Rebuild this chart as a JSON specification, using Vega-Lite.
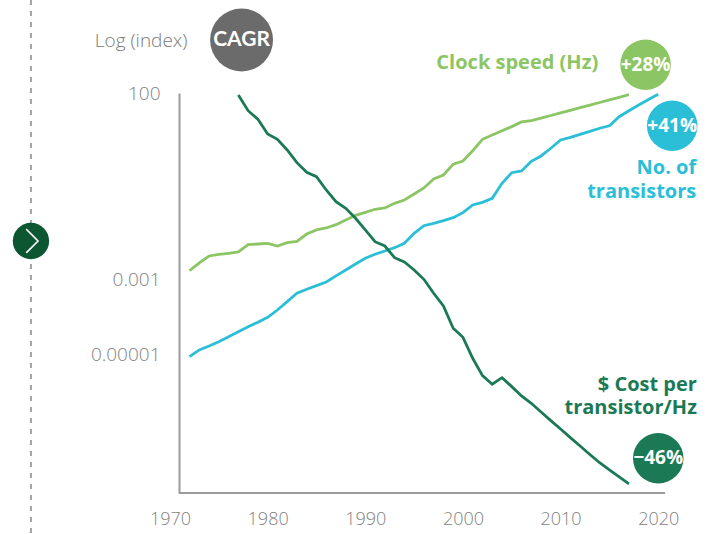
{
  "$schema": "https://vega.github.io/schema/vega-lite/v6.json",
  "width": 498,
  "height": 400,
  "autosize": "none",
  "padding": {"left": 170, "top": 93, "right": 46, "bottom": 41},
  "config": {
    "view": {"stroke": null},
    "font": "Open Sans",
    "axis": {"grid": false, "ticks": false, "labelFlush": false, "labelFont": "Open Sans", "labelFontWeight": 300, "labelFontSize": 19, "labelColor": "#7f7f7f", "domainColor": "#9a9a9a", "domainWidth": 2}
  },
  "datasets": {
    "lines": [
      {"series": "clock", "year": 1972, "value": 0.00177},
      {"series": "clock", "year": 1973, "value": 0.00284},
      {"series": "clock", "year": 1974, "value": 0.00437},
      {"series": "clock", "year": 1975, "value": 0.0048},
      {"series": "clock", "year": 1976, "value": 0.00516},
      {"series": "clock", "year": 1977, "value": 0.0056},
      {"series": "clock", "year": 1978, "value": 0.00877},
      {"series": "clock", "year": 1979, "value": 0.00915},
      {"series": "clock", "year": 1980, "value": 0.00955},
      {"series": "clock", "year": 1981, "value": 0.00809},
      {"series": "clock", "year": 1982, "value": 0.00991},
      {"series": "clock", "year": 1983, "value": 0.0108},
      {"series": "clock", "year": 1984, "value": 0.0169},
      {"series": "clock", "year": 1985, "value": 0.0217},
      {"series": "clock", "year": 1986, "value": 0.0245},
      {"series": "clock", "year": 1987, "value": 0.0301},
      {"series": "clock", "year": 1988, "value": 0.0401},
      {"series": "clock", "year": 1989, "value": 0.0536},
      {"series": "clock", "year": 1990, "value": 0.0644},
      {"series": "clock", "year": 1991, "value": 0.0776},
      {"series": "clock", "year": 1992, "value": 0.084},
      {"series": "clock", "year": 1993, "value": 0.112},
      {"series": "clock", "year": 1994, "value": 0.137},
      {"series": "clock", "year": 1995, "value": 0.199},
      {"series": "clock", "year": 1996, "value": 0.288},
      {"series": "clock", "year": 1997, "value": 0.501},
      {"series": "clock", "year": 1998, "value": 0.641},
      {"series": "clock", "year": 1999, "value": 1.24},
      {"series": "clock", "year": 2000, "value": 1.52},
      {"series": "clock", "year": 2001, "value": 2.86},
      {"series": "clock", "year": 2002, "value": 5.78},
      {"series": "clock", "year": 2003, "value": 7.53},
      {"series": "clock", "year": 2004, "value": 9.81},
      {"series": "clock", "year": 2005, "value": 12.6},
      {"series": "clock", "year": 2006, "value": 16.8},
      {"series": "clock", "year": 2007, "value": 18.2},
      {"series": "clock", "year": 2008, "value": 21.3},
      {"series": "clock", "year": 2009, "value": 25.0},
      {"series": "clock", "year": 2010, "value": 29.4},
      {"series": "clock", "year": 2011, "value": 34.5},
      {"series": "clock", "year": 2012, "value": 40.4},
      {"series": "clock", "year": 2013, "value": 47.5},
      {"series": "clock", "year": 2014, "value": 55.7},
      {"series": "clock", "year": 2015, "value": 65.4},
      {"series": "clock", "year": 2016, "value": 76.7},
      {"series": "clock", "year": 2017, "value": 90.0},
      {"series": "transistors", "year": 1972, "value": 0.00000885},
      {"series": "transistors", "year": 1973, "value": 0.0000134},
      {"series": "transistors", "year": 1974, "value": 0.0000171},
      {"series": "transistors", "year": 1975, "value": 0.0000223},
      {"series": "transistors", "year": 1976, "value": 0.0000303},
      {"series": "transistors", "year": 1977, "value": 0.0000413},
      {"series": "transistors", "year": 1978, "value": 0.0000562},
      {"series": "transistors", "year": 1979, "value": 0.0000736},
      {"series": "transistors", "year": 1980, "value": 0.0001},
      {"series": "transistors", "year": 1981, "value": 0.000157},
      {"series": "transistors", "year": 1982, "value": 0.000262},
      {"series": "transistors", "year": 1983, "value": 0.00044},
      {"series": "transistors", "year": 1984, "value": 0.000562},
      {"series": "transistors", "year": 1985, "value": 0.000702},
      {"series": "transistors", "year": 1986, "value": 0.000881},
      {"series": "transistors", "year": 1987, "value": 0.00128},
      {"series": "transistors", "year": 1988, "value": 0.00185},
      {"series": "transistors", "year": 1989, "value": 0.00267},
      {"series": "transistors", "year": 1990, "value": 0.00379},
      {"series": "transistors", "year": 1991, "value": 0.00485},
      {"series": "transistors", "year": 1992, "value": 0.00594},
      {"series": "transistors", "year": 1993, "value": 0.00729},
      {"series": "transistors", "year": 1994, "value": 0.00955},
      {"series": "transistors", "year": 1995, "value": 0.0177},
      {"series": "transistors", "year": 1996, "value": 0.0282},
      {"series": "transistors", "year": 1997, "value": 0.0327},
      {"series": "transistors", "year": 1998, "value": 0.0385},
      {"series": "transistors", "year": 1999, "value": 0.0462},
      {"series": "transistors", "year": 2000, "value": 0.063},
      {"series": "transistors", "year": 2001, "value": 0.101},
      {"series": "transistors", "year": 2002, "value": 0.119},
      {"series": "transistors", "year": 2003, "value": 0.153},
      {"series": "transistors", "year": 2004, "value": 0.385},
      {"series": "transistors", "year": 2005, "value": 0.738},
      {"series": "transistors", "year": 2006, "value": 0.82},
      {"series": "transistors", "year": 2007, "value": 1.49},
      {"series": "transistors", "year": 2008, "value": 2.07},
      {"series": "transistors", "year": 2009, "value": 3.32},
      {"series": "transistors", "year": 2010, "value": 5.53},
      {"series": "transistors", "year": 2011, "value": 6.53},
      {"series": "transistors", "year": 2012, "value": 7.85},
      {"series": "transistors", "year": 2013, "value": 9.46},
      {"series": "transistors", "year": 2014, "value": 11.4},
      {"series": "transistors", "year": 2015, "value": 13.3},
      {"series": "transistors", "year": 2016, "value": 23.2},
      {"series": "transistors", "year": 2017, "value": 33.6},
      {"series": "transistors", "year": 2018, "value": 47.8},
      {"series": "transistors", "year": 2019, "value": 67.0},
      {"series": "transistors", "year": 2020, "value": 92.3},
      {"series": "cost", "year": 1977, "value": 88.4},
      {"series": "cost", "year": 1978, "value": 33.6},
      {"series": "cost", "year": 1979, "value": 19.8},
      {"series": "cost", "year": 1980, "value": 8.0},
      {"series": "cost", "year": 1981, "value": 5.78},
      {"series": "cost", "year": 1982, "value": 2.99},
      {"series": "cost", "year": 1983, "value": 1.37},
      {"series": "cost", "year": 1984, "value": 0.757},
      {"series": "cost", "year": 1985, "value": 0.577},
      {"series": "cost", "year": 1986, "value": 0.255},
      {"series": "cost", "year": 1987, "value": 0.124},
      {"series": "cost", "year": 1988, "value": 0.0824},
      {"series": "cost", "year": 1989, "value": 0.0446},
      {"series": "cost", "year": 1990, "value": 0.0217},
      {"series": "cost", "year": 1991, "value": 0.01054},
      {"series": "cost", "year": 1992, "value": 0.00809},
      {"series": "cost", "year": 1993, "value": 0.00394},
      {"series": "cost", "year": 1994, "value": 0.00302},
      {"series": "cost", "year": 1995, "value": 0.001845},
      {"series": "cost", "year": 1996, "value": 0.00104},
      {"series": "cost", "year": 1997, "value": 0.00044},
      {"series": "cost", "year": 1998, "value": 0.000201},
      {"series": "cost", "year": 1999, "value": 0.0000509},
      {"series": "cost", "year": 2000, "value": 0.0000292},
      {"series": "cost", "year": 2001, "value": 0.00000802},
      {"series": "cost", "year": 2002, "value": 0.00000275},
      {"series": "cost", "year": 2003, "value": 0.00000162},
      {"series": "cost", "year": 2004, "value": 0.00000243},
      {"series": "cost", "year": 2005, "value": 0.0000014},
      {"series": "cost", "year": 2006, "value": 0.000000787},
      {"series": "cost", "year": 2007, "value": 0.000000502},
      {"series": "cost", "year": 2008, "value": 0.000000294},
      {"series": "cost", "year": 2009, "value": 0.000000173},
      {"series": "cost", "year": 2010, "value": 0.000000103},
      {"series": "cost", "year": 2011, "value": 0.0000000604},
      {"series": "cost", "year": 2012, "value": 0.0000000362},
      {"series": "cost", "year": 2013, "value": 0.0000000215},
      {"series": "cost", "year": 2014, "value": 0.0000000129},
      {"series": "cost", "year": 2015, "value": 0.00000000826},
      {"series": "cost", "year": 2016, "value": 0.00000000537},
      {"series": "cost", "year": 2017, "value": 0.00000000349}
    ],
    "frame": [{"year": 1955.76, "value": 30700, "value2": 1.6e-10}],
    "baseline": [{"year": 1970.92, "year2": 2020.7, "value": 2e-9}],
    "badges": [
      {"series": "clock", "label": "+28%", "year": 2018.7, "value": 571},
      {"series": "transistors", "label": "+41%", "year": 2021.43, "value": 13.3},
      {"series": "cost", "label": "−46%", "year": 2020.0, "value": 1.7e-8}
    ],
    "cagr": [{"series": "cagr", "label": "CAGR", "year": 1977.33, "value": 2616}],
    "nav": [{"series": "nav", "year": 1955.76, "value": 0.011}],
    "labels": [
      {"series": "clock", "text": "Clock speed (Hz)", "year": 2013.85, "value": 622},
      {"series": "transistors", "text": "No. of\ntransistors", "year": 2023.89, "value": 0.968},
      {"series": "cost", "text": "$ Cost per\ntransistor/Hz", "year": 2023.96, "value": 1.55e-6}
    ]
  },
  "encoding": {
    "x": {
      "field": "year", "type": "quantitative",
      "scale": {"domain": [1970, 2021], "nice": false, "zero": false},
      "axis": {"title": null, "values": [1970, 1980, 1990, 2000, 2010, 2020], "format": "d", "domain": false, "labelPadding": 17, "labelFontSize": 18}
    },
    "y": {
      "field": "value", "type": "quantitative",
      "scale": {"type": "log", "domain": [2e-9, 100], "nice": false},
      "axis": {
        "title": "Log (index)", "titleAngle": 0, "titleAlign": "right", "titleBaseline": "middle",
        "titleX": 8, "titleY": -53, "titleFontSize": 19, "titleFontWeight": 300, "titleColor": "#7a7a7a", "titleFont": "Open Sans",
        "values": [100, 0.001, 0.00001], "offset": -9, "labelPadding": 19,
        "labelExpr": "datum.value > 1 ? '100' : (datum.value > 0.0005 ? '0.001' : '0.00001')"
      }
    }
  },
  "layer": [
    {
      "data": {"name": "frame"},
      "mark": {"type": "rule", "strokeDash": [5, 6], "color": "#a3a3a3", "strokeWidth": 2, "clip": false},
      "encoding": {"y2": {"field": "value2"}}
    },
    {
      "data": {"name": "baseline"},
      "mark": {"type": "rule", "color": "#9a9a9a", "strokeWidth": 2, "clip": false},
      "encoding": {"x2": {"field": "year2"}}
    },
    {
      "data": {"name": "lines"},
      "mark": {"type": "line", "strokeWidth": 2.8, "clip": false},
      "encoding": {
        "color": {"field": "series", "type": "nominal", "legend": null,
          "scale": {"domain": ["clock", "transistors", "cost", "cagr", "nav"], "range": ["#8cc563", "#2abfd7", "#1b7a55", "#6b6b6b", "#0c5632"]}}
      }
    },
    {
      "data": {"name": "badges"},
      "mark": {"type": "point", "shape": "circle", "filled": true, "opacity": 1, "size": 2552, "clip": false},
      "encoding": {"color": {"field": "series", "type": "nominal", "legend": null}}
    },
    {
      "data": {"name": "cagr"},
      "mark": {"type": "point", "shape": "circle", "filled": true, "opacity": 1, "size": 3960, "clip": false},
      "encoding": {"color": {"field": "series", "type": "nominal", "legend": null}}
    },
    {
      "data": {"name": "nav"},
      "mark": {"type": "point", "shape": "circle", "filled": true, "opacity": 1, "size": 1320, "clip": false},
      "encoding": {"color": {"field": "series", "type": "nominal", "legend": null}}
    },
    {
      "data": {"name": "nav"},
      "mark": {"type": "point", "shape": "M-0.4,-1L0.6,0L-0.4,1", "filled": false, "stroke": "#ffffff", "strokeWidth": 1.6, "opacity": 1, "size": 560, "clip": false},
      "encoding": {}
    },
    {
      "data": {"name": "badges"},
      "mark": {"type": "text", "font": "Open Sans", "fontWeight": "bold", "fontSize": 19, "color": "#ffffff", "align": "center", "baseline": "middle", "clip": false},
      "encoding": {"text": {"field": "label"}}
    },
    {
      "data": {"name": "cagr"},
      "mark": {"type": "text", "font": "Lato", "fontWeight": "bold", "fontSize": 21, "color": "#ffffff", "align": "center", "baseline": "middle", "clip": false},
      "encoding": {"text": {"field": "label"}}
    },
    {
      "data": {"name": "labels"},
      "mark": {"type": "text", "font": "Open Sans", "fontWeight": "bold", "fontSize": 20, "align": "right", "baseline": "middle", "lineBreak": "\n", "lineHeight": 23.4, "clip": false},
      "encoding": {
        "text": {"field": "text"},
        "color": {"field": "series", "type": "nominal", "legend": null}
      }
    }
  ]
}
